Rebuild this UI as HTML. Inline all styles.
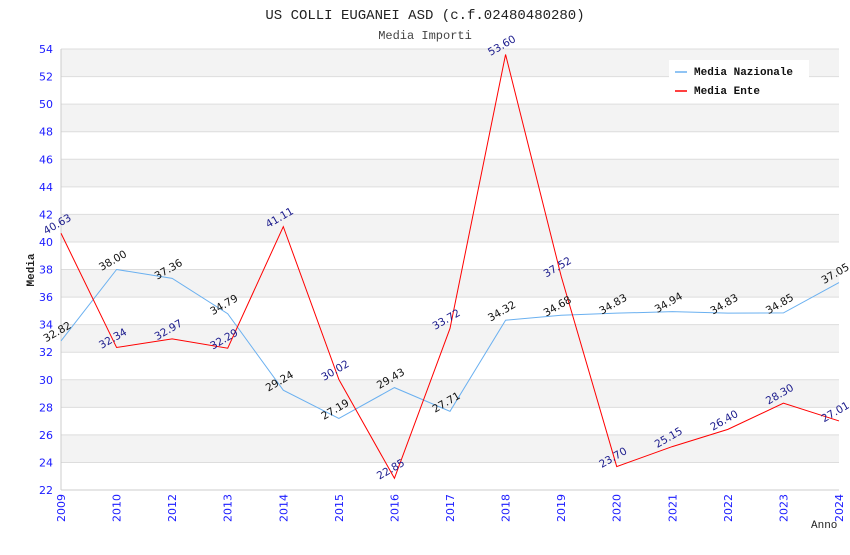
<!DOCTYPE html>
<html><head><meta charset="utf-8"><style>
body{margin:0;background:#fff;width:850px;height:550px;overflow:hidden}
</style></head><body>
<svg id="chart" width="850" height="550" xmlns="http://www.w3.org/2000/svg">
<text x="425" y="19" text-anchor="middle" font-family="Liberation Mono, monospace" font-size="14" fill="#222">US COLLI EUGANEI ASD (c.f.02480480280)</text>
<text x="425" y="39" text-anchor="middle" font-family="Liberation Mono, monospace" font-size="12" fill="#444">Media Importi</text>
<g id="bands"></g><g id="grid"></g><g id="axes"></g><g id="series"></g><g id="labels"></g>
<text x="0" y="0" transform="translate(34,270) rotate(-90)" text-anchor="middle" font-family="Liberation Mono, monospace" font-weight="bold" font-size="11" fill="#222">Media</text>
<text x="811" y="528" font-family="Liberation Mono, monospace" font-size="11" fill="#222">Anno</text>
<g>
<rect x="669" y="60" width="140" height="42" fill="#fff"/>
<line x1="675" y1="72" x2="687" y2="72" stroke="#6ab0f0" stroke-width="1.5"/>
<text x="694" y="75" font-family="Liberation Mono, monospace" font-weight="bold" font-size="11" fill="#111">Media Nazionale</text>
<line x1="675" y1="91" x2="687" y2="91" stroke="#f00" stroke-width="1.5"/>
<text x="694" y="94" font-family="Liberation Mono, monospace" font-weight="bold" font-size="11" fill="#111">Media Ente</text>
</g>
</svg>
<script>
const categories=["2009","2010","2012","2013","2014","2015","2016","2017","2018","2019","2020","2021","2022","2023","2024"];
const nazionale=[32.82,38.00,37.36,34.79,29.24,27.19,29.43,27.71,34.32,34.68,34.83,34.94,34.83,34.85,37.05];
const ente=[40.63,32.34,32.97,32.29,41.11,30.02,22.85,33.72,53.60,37.52,23.70,25.15,26.40,28.30,27.01];
const yTicks=[22,24,26,28,30,32,34,36,38,40,42,44,46,48,50,52,54];
const NS="http://www.w3.org/2000/svg";
const L=61,R=839,T=49,B=490,yMin=22,yMax=54;
function x(i){return L+(R-L)*i/(categories.length-1);}
function y(v){return B-(v-yMin)/(yMax-yMin)*(B-T);}
function mk(tag,attrs,parent){const e=document.createElementNS(NS,tag);for(const k in attrs)e.setAttribute(k,attrs[k]);document.getElementById(parent).appendChild(e);return e;}
for(let i=0;i<yTicks.length-1;i++){
 if((yTicks.length-2-i)%2===0){const r=mk('rect',{x:L,y:y(yTicks[i+1]),width:R-L,height:y(yTicks[i])-y(yTicks[i+1]),fill:'#f3f3f3'},'bands');
 
 }
}
yTicks.forEach(v=>{
 const g=mk('line',{x1:L,x2:R,y1:y(v),y2:y(v),stroke:'#ddd'},'grid');
 
 
 const t=mk('text',{x:L-8,y:y(v)+4,'text-anchor':'end','font-family':'DejaVu Sans, sans-serif','font-size':11,fill:'#1a1aff'},'axes');
 t.textContent=v;
 
 
});
mk('line',{x1:L,x2:L,y1:T,y2:B,stroke:'#ccc'},'axes');
mk('line',{x1:L,x2:R,y1:B,y2:B,stroke:'#ccc'},'axes');
categories.forEach((c,i)=>{
 const t=mk('text',{x:0,y:0,transform:`translate(${x(i)+4},${B+4}) rotate(-90)`,'text-anchor':'end','font-family':'DejaVu Sans, sans-serif','font-size':11,fill:'#1a1aff'},'axes');
 t.textContent=c;
 
 
});
function series(data,color,lc,name){
 const p=mk('polyline',{points:data.map((v,i)=>x(i)+','+y(v)).join(' '),fill:'none',stroke:color,'stroke-width':1},'series');
 
 
 data.forEach((v,i)=>{
  const t=mk('text',{x:0,y:0,transform:`translate(${x(i)-2},${y(v)-6}) rotate(-30)`,'text-anchor':'middle','font-family':'DejaVu Sans, sans-serif','font-size':10.5,fill:lc},'labels');
  t.textContent=v.toFixed(2);
  
  
 });
}
series(nazionale,'#6ab0f0','#111','nazionale');
series(ente,'#ff0000','#1a1a8c','ente');
</script>
</body></html>
